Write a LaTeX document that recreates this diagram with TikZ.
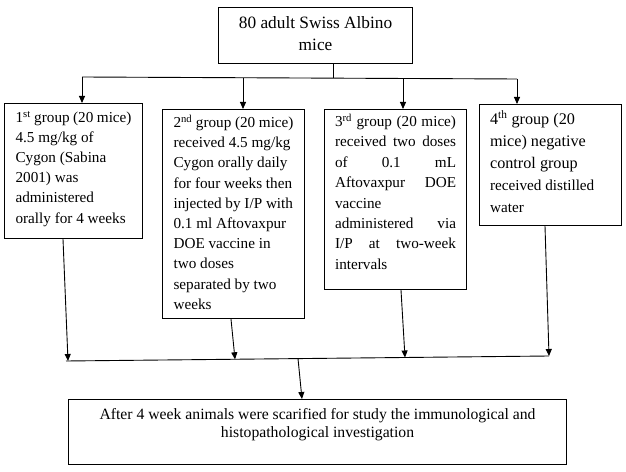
\documentclass[tikz,border=0pt]{standalone}
\usepackage{fontspec}
\setmainfont{Liberation Serif}
\usetikzlibrary{arrows.meta}
\begin{document}
\begin{tikzpicture}[x=1bp,y=-1bp,
  box/.style={draw=black, line width=1.1bp, inner xsep=11bp, inner ysep=0pt, anchor=north west, fill=white},
  conn/.style={draw=black, line width=0.9bp},
  arr/.style={conn, -{Triangle[length=7bp,width=6bp]}}]
\useasboundingbox[fill=white] (0,0) rectangle (626,472);
% top box
\node[box] (top) at (218,7) {\begin{minipage}[c][56bp][t]{172bp}\centering\fontsize{17.3bp}{22bp}\selectfont
\rule{0pt}{21bp}80 adult Swiss Albino\\ mice\end{minipage}};
% group boxes
\node[box] (g1) at (4,103) {\begin{minipage}[c][135bp][t]{116bp}\raggedright\fontsize{15.2bp}{20.1bp}\selectfont
\rule{0pt}{19bp}1\textsuperscript{st} group (20 mice)\\
4.5 mg/kg of\\
Cygon (Sabina\\
2001) was\\
administered\\
orally for 4 weeks\end{minipage}};
\node[box] (g2) at (162,109) {\begin{minipage}[c][209bp][t]{120bp}\raggedright\fontsize{15.2bp}{20.2bp}\selectfont
\rule{0pt}{18bp}2\textsuperscript{nd} group (20 mice)\\
received 4.5 mg/kg\\
Cygon orally daily\\
for four weeks then\\
injected by I/P with\\
0.1 ml Aftovaxpur\\
DOE vaccine in\\
two doses\\
separated by two\\
weeks\end{minipage}};
\node[box, inner xsep=10.5bp] (g3) at (324,109) {\begin{minipage}[c][180bp][t]{121bp}\raggedright\fontsize{15.2bp}{20.4bp}\selectfont
\rule{0pt}{17bp}\makebox[\linewidth][s]{3\textsuperscript{rd} group (20 mice)}\\
\makebox[\linewidth][s]{received two doses}\\
\makebox[\linewidth][s]{of 0.1 mL}\\
\makebox[\linewidth][s]{Aftovaxpur DOE}\\
vaccine\\
\makebox[\linewidth][s]{administered via}\\
\makebox[\linewidth][s]{I/P at two-week}\\
intervals\end{minipage}};
\node[box, inner xsep=10.5bp] (g4) at (479,104) {\begin{minipage}[c][121bp][t]{121bp}\raggedright\fontsize{16.2bp}{22bp}\selectfont
\rule{0pt}{20bp}4\textsuperscript{th} group (20\\
mice) negative\\
control group\\
{\fontsize{15.2bp}{22bp}\selectfont received distilled\\
water}\end{minipage}};
% bottom box
\node[box] (bot) at (68,399) {\begin{minipage}[c][65bp][t]{476bp}\centering\fontsize{15.7bp}{18.3bp}\selectfont
\rule{0pt}{20bp}After 4 week animals were scarified for study the immunological and\\
histopathological investigation\end{minipage}};
% top connectors
\coordinate (j) at (333,78);
\coordinate (a1) at (82,77);
\coordinate (a2) at (243,77.7);
\coordinate (a3) at (403,78.4);
\coordinate (a4) at (517,79);
\draw[conn] (top.south -| j) -- (j);
\draw[conn] (a1) -- (a4);
\draw[arr] (a1) -- (g1.north -| a1);
\draw[arr] (a2) -- (g2.north -| a2);
\draw[arr] (a3) -- (g3.north -| a3);
\draw[arr] (a4) -- (g4.north -| a4);
% bottom connectors
\coordinate (s1) at (63,0);
\coordinate (s2) at (231,0);
\coordinate (s3) at (401,0);
\coordinate (s4) at (545,0);
\coordinate (e1) at (68,361);
\coordinate (e2) at (235,359.3);
\coordinate (e3) at (405,357.5);
\coordinate (e4) at (549,356);
\coordinate (hl) at (66,361);
\coordinate (m) at (298,358.6);
\coordinate (c) at (302,0);
\draw[conn] (hl) -- (e4);
\draw[arr] (g1.south -| s1) -- (e1);
\draw[arr] (g2.south -| s2) -- (e2);
\draw[arr] (g3.south -| s3) -- (e3);
\draw[arr] (g4.south -| s4) -- (e4);
\draw[arr] (m) -- (bot.north -| c);
\end{tikzpicture}
\end{document}
